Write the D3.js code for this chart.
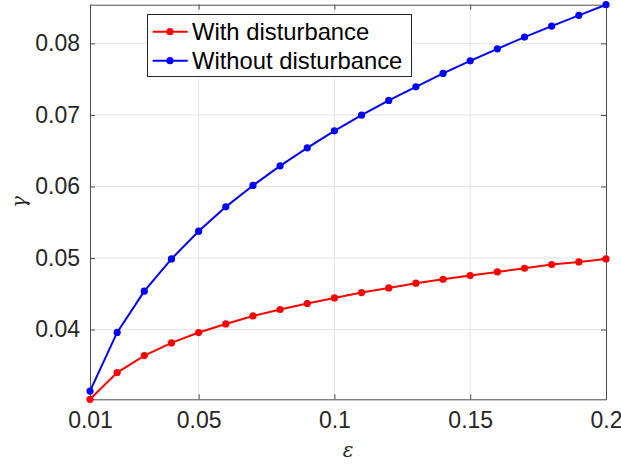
<!DOCTYPE html>
<html>
<head>
<meta charset="utf-8">
<script src="https://cdn.jsdelivr.net/npm/d3@7"></script>
<style>
  body { margin: 0; background: #fff; }
  svg { display: block; font-family: "Liberation Sans", Arial, sans-serif; }
</style>
</head>
<body>
<svg class="chart" width="621" height="464"></svg>
<script>
// epsilon values along the x axis
var eps = [0.01, 0.02, 0.03, 0.04, 0.05, 0.06, 0.07, 0.08, 0.09, 0.10,
           0.11, 0.12, 0.13, 0.14, 0.15, 0.16, 0.17, 0.18, 0.19, 0.20];
var withDist = [0.03025, 0.03399, 0.03636, 0.03813, 0.03958, 0.04078, 0.04190, 0.04280, 0.04364, 0.04442,
                0.04517, 0.04582, 0.04648, 0.04703, 0.04755, 0.04806, 0.04857, 0.04909, 0.04945, 0.04987];
var withoutDist = [0.0314, 0.0396, 0.04536, 0.04987, 0.05375, 0.05715, 0.06014, 0.06288, 0.06540, 0.06778,
                   0.06997, 0.07203, 0.07393, 0.07580, 0.07757, 0.07924, 0.08088, 0.08242, 0.08392, 0.08541];
var xTicks = [0.01, 0.05, 0.1, 0.15, 0.2];
var yTicks = [0.04, 0.05, 0.06, 0.07, 0.08];
var seriesNames = ["With disturbance", "Without disturbance"];
var seriesColors = ["#ff0000", "#0000ff"];

var svg = d3.select("svg.chart");
var plotL = 90, plotR = 606, plotT = 4.7, plotB = 399.3;

var x = d3.scaleLinear().domain([0.01, 0.2]).range([plotL, plotR]);
var y = d3.scaleLinear().domain([d3.min(withDist), d3.max(withoutDist)]).range([plotB, plotT]);

var textColor = "#262626", axisColor = "#4d4d4d";

// grid
var grid = svg.append("g");
grid.selectAll(".gx").data(xTicks.slice(1, -1)).enter().append("line")
    .attr("x1", function (d) { return x(d); }).attr("x2", function (d) { return x(d); })
    .attr("y1", plotT).attr("y2", plotB)
    .attr("stroke", "#e3e3e3").attr("stroke-width", 1);
grid.selectAll(".gy").data(yTicks).enter().append("line")
    .attr("y1", function (d) { return y(d); }).attr("y2", function (d) { return y(d); })
    .attr("x1", plotL).attr("x2", plotR)
    .attr("stroke", "#e3e3e3").attr("stroke-width", 1);

// axes (box with inward ticks on all sides)
var fmtX = function (d) { return String(+d.toFixed(2)); };
var fmtY = function (d) { return d.toFixed(2); };

var xAxis = svg.append("g").attr("transform", "translate(0," + plotB + ")")
    .call(d3.axisBottom(x).tickValues(xTicks).tickFormat(fmtX).tickSizeInner(-5).tickSizeOuter(0).tickPadding(12));
var yAxis = svg.append("g").attr("transform", "translate(" + plotL + ",0)")
    .call(d3.axisLeft(y).tickValues(yTicks).tickFormat(fmtY).tickSizeInner(-5).tickSizeOuter(0).tickPadding(10));
var xTop = svg.append("g").attr("transform", "translate(0," + plotT + ")")
    .call(d3.axisTop(x).tickValues(xTicks).tickFormat("").tickSizeInner(-5).tickSizeOuter(0));
var yRight = svg.append("g").attr("transform", "translate(" + plotR + ",0)")
    .call(d3.axisRight(y).tickValues(yTicks).tickFormat("").tickSizeInner(-5).tickSizeOuter(0));

[xAxis, yAxis, xTop, yRight].forEach(function (a) {
    a.select(".domain").attr("stroke", axisColor);
    a.selectAll(".tick line").attr("stroke", axisColor);
    a.selectAll(".tick text").attr("fill", textColor)
        .style("font-size", "23px").style("font-family", "'Liberation Sans', Arial, sans-serif");
});

// series
var data = [withDist, withoutDist];
var line = d3.line().x(function (d, i) { return x(eps[i]); }).y(function (d) { return y(d); });

data.forEach(function (vals, k) {
    var g = svg.append("g");
    g.append("path").datum(vals)
        .attr("d", line)
        .attr("fill", "none")
        .attr("stroke", seriesColors[k])
        .attr("stroke-width", 2);
    g.selectAll("circle").data(vals).enter().append("circle")
        .attr("cx", function (d, i) { return x(eps[i]); })
        .attr("cy", function (d) { return y(d); })
        .attr("r", 3.6)
        .attr("fill", seriesColors[k]);
});

// axis labels
svg.append("text")
    .attr("x", (plotL + plotR) / 2).attr("y", 457)
    .attr("text-anchor", "middle")
    .style("font-family", "'DejaVu Serif', serif").style("font-style", "italic").style("font-size", "20px")
    .attr("fill", textColor)
    .text("\u03B5");
svg.append("text")
    .attr("transform", "translate(26," + ((plotT + plotB) / 2) + ") rotate(-90)")
    .attr("text-anchor", "middle")
    .style("font-family", "'DejaVu Serif', serif").style("font-style", "italic").style("font-size", "20px")
    .attr("fill", textColor)
    .text("\u03B3");

// legend
var legend = svg.append("g");
legend.append("rect")
    .attr("x", 147.5).attr("y", 14.5).attr("width", 264).attr("height", 62)
    .attr("fill", "#fff").attr("stroke", "#262626").attr("stroke-width", 1);
var rowY = [31.7, 60.7];
seriesNames.forEach(function (name, k) {
    legend.append("line")
        .attr("x1", 152.7).attr("x2", 187.7).attr("y1", rowY[k]).attr("y2", rowY[k])
        .attr("stroke", seriesColors[k]).attr("stroke-width", 2);
    legend.append("circle")
        .attr("cx", 170).attr("cy", rowY[k]).attr("r", 3.6).attr("fill", seriesColors[k]);
    legend.append("text")
        .attr("x", 192).attr("y", rowY[k]).attr("dy", "0.36em")
        .style("font-size", "23.8px")
        .attr("fill", "#000")
        .text(name);
});
</script>
</body>
</html>
